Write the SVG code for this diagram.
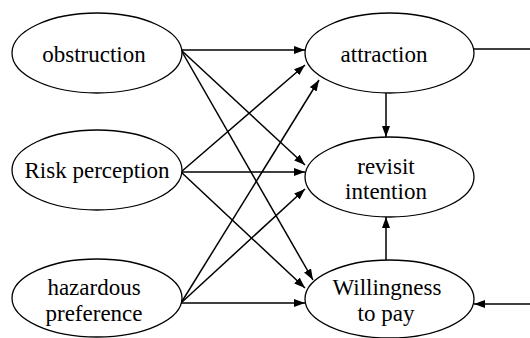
<svg xmlns="http://www.w3.org/2000/svg" width="530" height="338" viewBox="0 0 530 338">
<style>
.n{fill:#fff;stroke:#000;stroke-width:1.3}
.t{font-family:'Liberation Serif','Times New Roman',serif;font-size:23px;fill:#000;text-anchor:middle}
.c line{stroke:#000;stroke-width:1.5}
.a{marker-end:url(#ah)}
</style>
<defs>
<marker id="ah" markerUnits="userSpaceOnUse" markerWidth="12" markerHeight="9" refX="11" refY="4" orient="auto">
<path d="M0,0 L11,4 L0,8 z" fill="#000"/>
</marker>
</defs>
<g class="c" id="connectors">
<line class="a" x1="181" y1="50" x2="305" y2="50"/>
<line class="a" x1="181" y1="50" x2="305" y2="165"/>
<line class="a" x1="181" y1="50" x2="313" y2="280"/>
<line class="a" x1="181" y1="172" x2="305" y2="65"/>
<line class="a" x1="181" y1="172" x2="305" y2="172"/>
<line class="a" x1="181" y1="172" x2="305" y2="288"/>
<line class="a" x1="181" y1="303" x2="319" y2="80"/>
<line class="a" x1="181" y1="303" x2="305" y2="189"/>
<line class="a" x1="181" y1="303" x2="305" y2="303"/>
<line class="a" x1="386" y1="93" x2="386" y2="137"/>
<line class="a" x1="386" y1="260" x2="386" y2="217"/>
<line x1="474" y1="49" x2="530" y2="49"/>
<line class="a" x1="530" y1="304" x2="474" y2="304"/>
</g>
<g id="obstruction">
<ellipse class="n" cx="97" cy="53" rx="85" ry="40"/>
<text class="t" x="94" y="62">obstruction</text>
</g>
<g id="risk">
<ellipse class="n" cx="97" cy="170" rx="85" ry="40"/>
<text class="t" x="97" y="178">Risk perception</text>
</g>
<g id="hazardous">
<ellipse class="n" cx="97" cy="298" rx="85" ry="39"/>
<text class="t" x="94" y="295">hazardous</text>
<text class="t" x="94" y="321">preference</text>
</g>
<g id="attraction">
<ellipse class="n" cx="389.5" cy="53" rx="84.5" ry="40"/>
<text class="t" x="384" y="62">attraction</text>
</g>
<g id="revisit">
<ellipse class="n" cx="389.5" cy="177" rx="84.5" ry="40"/>
<text class="t" x="386" y="174">revisit</text>
<text class="t" x="386" y="199">intention</text>
</g>
<g id="willingness">
<ellipse class="n" cx="389.5" cy="299" rx="84.5" ry="39"/>
<text class="t" x="387" y="295">Willingness</text>
<text class="t" x="386" y="321">to pay</text>
</g>
</svg>
